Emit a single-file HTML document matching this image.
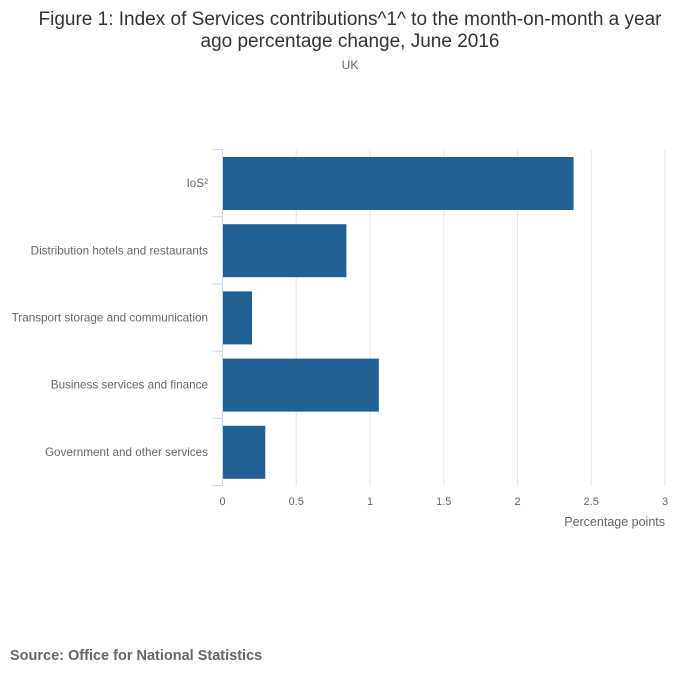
<!DOCTYPE html>
<html><head><meta charset="utf-8"><style>
body{margin:0;background:#fff;font-family:"Liberation Sans",sans-serif}
svg text{font-family:"Liberation Sans",sans-serif}
</style></head><body>
<svg width="700" height="682" xmlns="http://www.w3.org/2000/svg">
<text x="350" y="25" text-anchor="middle" font-size="19" fill="#333">Figure 1: Index of Services contributions^1^ to the month-on-month a year</text>
<text x="350" y="47" text-anchor="middle" font-size="19" fill="#333">ago percentage change, June 2016</text>
<text x="350" y="69" text-anchor="middle" font-size="12" fill="#666">UK</text>
<g id="grid"></g><g id="bars"></g><g id="axes"></g>
<text x="665" y="526" text-anchor="end" font-size="12.5" fill="#666">Percentage points</text>
<text x="10" y="660" font-size="14.5" font-weight="bold" fill="#666">Source: Office for National Statistics</text>
</svg>
<script>
const categories=["IoS²","Distribution hotels and restaurants","Transport storage and communication","Business services and finance","Government and other services"];
const values=[2.38,0.84,0.2,1.06,0.29];
const ticks=[0,0.5,1,1.5,2,2.5,3];
const tickLabels=["0","0.5","1","1.5","2","2.5","3"];
const NS="http://www.w3.org/2000/svg";
const x0=222.5,x1=665,xmax=3,yTop=149.5,band=67.2;
const xs=v=>x0+(x1-x0)*v/xmax;
function mk(t,a,p){const e=document.createElementNS(NS,t);for(const k in a)e.setAttribute(k,a[k]);p.appendChild(e);return e;}
const g=document.getElementById('grid'),b=document.getElementById('bars'),ax=document.getElementById('axes');
ticks.forEach((t,i)=>{
 if(i>0){const l=mk('line',{x1:xs(t),x2:xs(t),y1:yTop,y2:yTop+band*5,stroke:'#e6e6e6'},g);
 
 }
 const tx=mk('text',{x:xs(t),y:505,'text-anchor':'middle','font-size':11,fill:'#666'},ax);tx.textContent=tickLabels[i];
 
 
});
const al=mk('line',{x1:x0,x2:x0,y1:yTop,y2:yTop+band*5,stroke:'#ccd6eb'},ax);


for(let i=0;i<=5;i++){const tk=mk('line',{x1:x0-10,x2:x0,y1:yTop+band*i,y2:yTop+band*i,stroke:'#ccd6eb'},ax);
 
 }
categories.forEach((c,i)=>{
 const r=mk('rect',{x:x0,y:yTop+band*i+7.5,width:xs(values[i])-x0,height:53,fill:'#206095'},b);
 
 
 const t=mk('text',{x:208,y:yTop+band*i+band/2+4,'text-anchor':'end','font-size':11.7,fill:'#666'},ax);t.textContent=c;
 
 
});
</script>
</body></html>
